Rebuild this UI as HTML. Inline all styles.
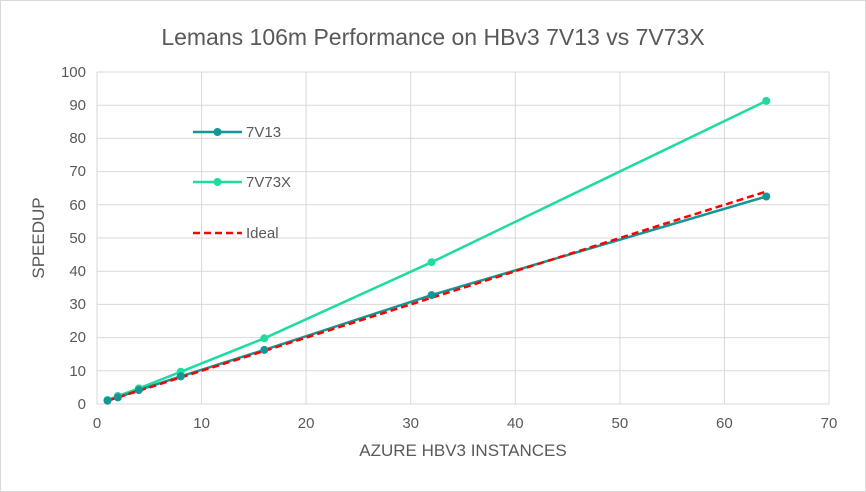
<!DOCTYPE html>
<html><head><style>body{margin:0;background:#fff}svg{display:block}text{font-family:"Liberation Sans",sans-serif;fill:#595959}</style></head>
<body>
<svg width="866" height="492" xmlns="http://www.w3.org/2000/svg">
<rect x="0.5" y="0.5" width="865" height="491" fill="#fff" stroke="#d9d9d9"/>
<text x="433" y="45" font-size="23" text-anchor="middle">Lemans 106m Performance on HBv3 7V13 vs 7V73X</text>
<g stroke="#d9d9d9" stroke-width="1">
<line x1="97" y1="72" x2="829" y2="72"/><line x1="97" y1="105.2" x2="829" y2="105.2"/><line x1="97" y1="138.4" x2="829" y2="138.4"/><line x1="97" y1="171.6" x2="829" y2="171.6"/><line x1="97" y1="204.8" x2="829" y2="204.8"/><line x1="97" y1="238" x2="829" y2="238"/><line x1="97" y1="271.2" x2="829" y2="271.2"/><line x1="97" y1="304.4" x2="829" y2="304.4"/><line x1="97" y1="337.6" x2="829" y2="337.6"/><line x1="97" y1="370.8" x2="829" y2="370.8"/><line x1="97" y1="404" x2="829" y2="404"/>
<line x1="97" y1="72" x2="97" y2="404"/><line x1="201.6" y1="72" x2="201.6" y2="404"/><line x1="306.1" y1="72" x2="306.1" y2="404"/><line x1="410.7" y1="72" x2="410.7" y2="404"/><line x1="515.3" y1="72" x2="515.3" y2="404"/><line x1="619.9" y1="72" x2="619.9" y2="404"/><line x1="724.4" y1="72" x2="724.4" y2="404"/><line x1="829" y1="72" x2="829" y2="404"/>
</g>
<g font-size="15" text-anchor="end">
<text x="86" y="77">100</text><text x="86" y="110">90</text><text x="86" y="143">80</text><text x="86" y="176">70</text><text x="86" y="210">60</text><text x="86" y="243">50</text><text x="86" y="276">40</text><text x="86" y="309">30</text><text x="86" y="342">20</text><text x="86" y="376">10</text><text x="86" y="409">0</text>
</g>
<g font-size="15" text-anchor="middle">
<text x="97" y="428">0</text><text x="201.6" y="428">10</text><text x="306.1" y="428">20</text><text x="410.7" y="428">30</text><text x="515.3" y="428">40</text><text x="619.9" y="428">50</text><text x="724.4" y="428">60</text><text x="829" y="428">70</text>
</g>
<text x="463" y="456" font-size="17" text-anchor="middle">AZURE HBV3 INSTANCES</text>
<text transform="translate(44,238) rotate(-90)" font-size="17" text-anchor="middle">SPEEDUP</text>
<polyline fill="none" stroke="#1EDCA0" stroke-width="2.5" points="107.5,400 117.9,396 138.8,388.4 180.7,371.8 264.3,338.3 431.6,262.2 766.3,100.9"/>
<polyline fill="none" stroke="#129696" stroke-width="2.5" points="107.5,400.7 117.9,397.4 138.8,390.1 180.7,376.4 264.3,349.9 431.6,295.1 766.3,196.5"/>
<line x1="107.5" y1="400.7" x2="766.3" y2="191.5" stroke="#ff0000" stroke-width="2.5" stroke-dasharray="7,4"/>
<g fill="#1EDCA0"><circle cx="107.5" cy="400" r="4"/><circle cx="117.9" cy="396" r="4"/><circle cx="138.8" cy="388.4" r="4"/><circle cx="180.7" cy="371.8" r="4"/><circle cx="264.3" cy="338.3" r="4"/><circle cx="431.6" cy="262.2" r="4"/><circle cx="766.3" cy="100.9" r="4"/></g>
<g fill="#129696"><circle cx="107.5" cy="400.7" r="4"/><circle cx="117.9" cy="397.4" r="4"/><circle cx="138.8" cy="390.1" r="4"/><circle cx="180.7" cy="376.4" r="4"/><circle cx="264.3" cy="349.9" r="4"/><circle cx="431.6" cy="295.1" r="4"/><circle cx="766.3" cy="196.5" r="4"/></g>
<line x1="193" y1="132" x2="242" y2="132" stroke="#129696" stroke-width="2.5"/><circle cx="217.5" cy="132" r="4" fill="#129696"/>
<text x="246" y="137" font-size="15">7V13</text>
<line x1="193" y1="182" x2="242" y2="182" stroke="#1EDCA0" stroke-width="2.5"/><circle cx="217.5" cy="182" r="4" fill="#1EDCA0"/>
<text x="246" y="187" font-size="15">7V73X</text>
<line x1="193" y1="233" x2="242" y2="233" stroke="#ff0000" stroke-width="2.5" stroke-dasharray="7,4"/>
<text x="246" y="238" font-size="15">Ideal</text>
</svg>
</body></html>
